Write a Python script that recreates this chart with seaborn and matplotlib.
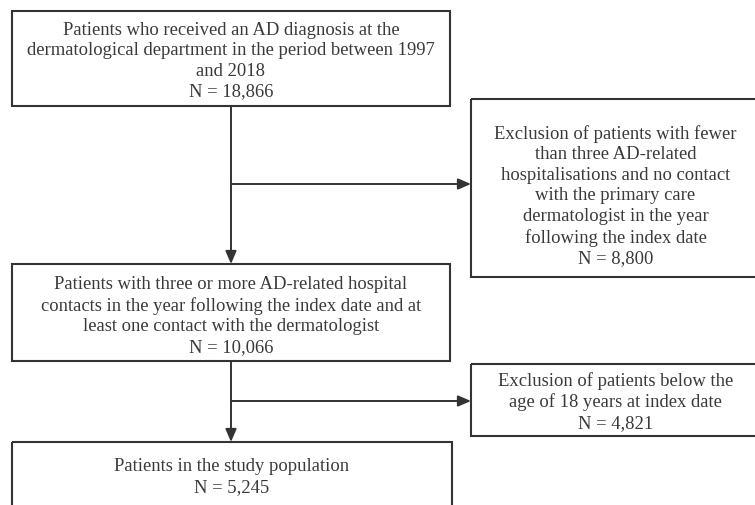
import seaborn as sns
import matplotlib.pyplot as plt
from matplotlib.patches import Rectangle

# flowchart content
box_texts = [
    "Patients who received an AD diagnosis at the\ndermatological department in the period between 1997\nand 2018",
    "Exclusion of patients with fewer\nthan three AD-related\nhospitalisations and no contact\nwith the primary care\ndermatologist in the year\nfollowing the index date",
    "Patients with three or more AD-related hospital\ncontacts in the year following the index date and at\nleast one contact with the dermatologist",
    "Exclusion of patients below the\nage of 18 years at index date",
    "Patients in the study population",
]
box_counts = [18866, 8800, 10066, 4821, 5245]

# layout in pixel units (x0, y0, x1, y1) and text centre y
box_rects = [(12, 12, 450, 107), (471, 100, 760, 278), (12, 265, 450, 362),
             (471, 365, 760, 437), (12, 443, 452, 520)]
text_y = [61, 196, 316, 402, 477]
main_x = 231
branch_y = [185, 402]

sns.set_theme(style="white")
plt.rcParams['font.family'] = ['Liberation Serif', 'DejaVu Serif']

fig = plt.figure(figsize=(7.55, 5.06), dpi=100)
ax = fig.add_axes([0, 0, 1, 1])
ax.set_xlim(0, 755)
ax.set_ylim(506, 0)
ax.axis("off")

ink = "#333333"
for (x0, y0, x1, y1), txt, n, ty in zip(box_rects, box_texts, box_counts, text_y):
    ax.add_patch(Rectangle((x0, y0), x1 - x0, y1 - y0, fill=False, lw=1.5, ec=ink))
    cx = (x0 + min(x1, 763)) / 2
    ax.text(cx, ty, f"{txt}\nN = {n:,}", ha="center", va="center", fontsize=13.4,
            color="#3a3a3a", linespacing=1.27)

arrow = dict(arrowstyle="-|>,head_length=0.7,head_width=0.3", color=ink, lw=1.4,
             mutation_scale=11, shrinkA=0, shrinkB=0)
# vertical connectors
ax.annotate("", xy=(main_x, box_rects[2][1]), xytext=(main_x, box_rects[0][3]), arrowprops=arrow)
ax.annotate("", xy=(main_x, box_rects[4][1]), xytext=(main_x, box_rects[2][3]), arrowprops=arrow)
# exclusion branches
ax.annotate("", xy=(box_rects[1][0], branch_y[0]), xytext=(main_x, branch_y[0]), arrowprops=arrow)
ax.annotate("", xy=(box_rects[3][0], branch_y[1]), xytext=(main_x, branch_y[1]), arrowprops=arrow)

plt.savefig("out.png", dpi=100)
